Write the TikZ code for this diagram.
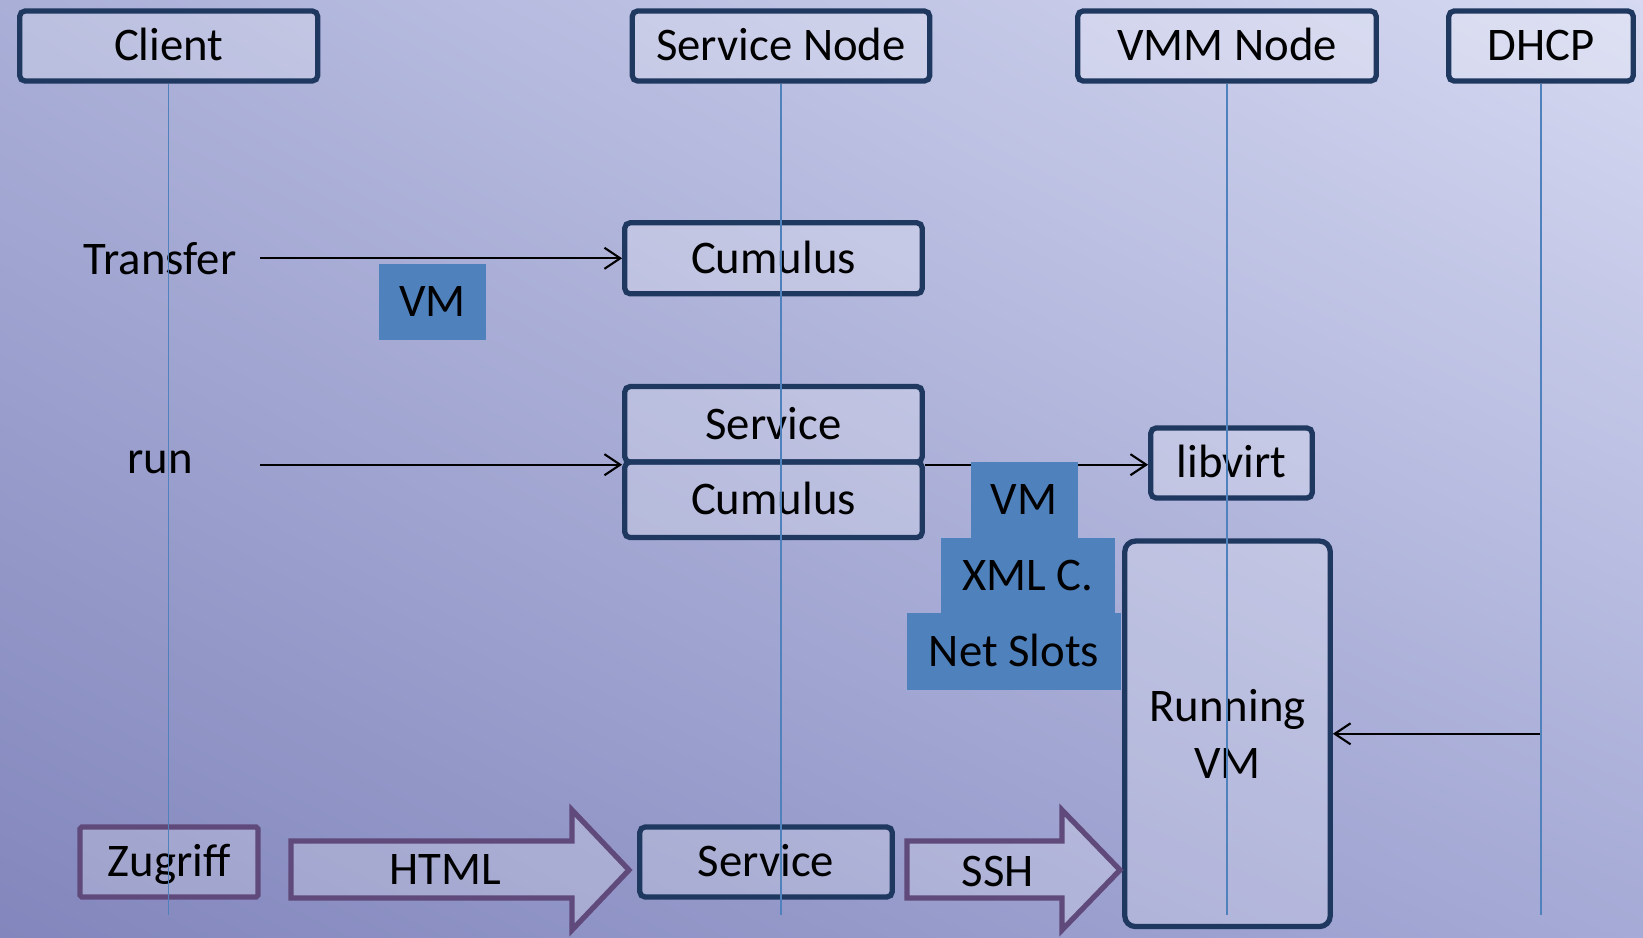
\documentclass[tikz,border=0pt]{standalone}
\usepackage{fontspec}
\setmainfont{Carlito}
\usetikzlibrary{arrows.meta,shadings}

\definecolor{bgTL}{RGB}{170,175,216}
\definecolor{bgTR}{RGB}{214,217,241}
\definecolor{bgBL}{RGB}{130,134,188}
\definecolor{bgBR}{RGB}{165,170,214}
\definecolor{navy}{RGB}{31,56,96}
\definecolor{accent}{RGB}{79,129,189}
\definecolor{plum}{RGB}{96,74,123}

\begin{document}
\begin{tikzpicture}[x=0.02cm,y=-0.02cm,
  every node/.style={font=\fontsize{26.6}{32}\selectfont},
  frame/.style={draw=navy,line width=3pt,fill=white,fill opacity=0.22,text opacity=1,
    rounded corners=3pt,inner sep=0pt},
  box/.style={frame,minimum height=1.4cm,text height=17pt,text depth=0pt},
  accbox/.style={box,draw=plum,rounded corners=1pt},
  tag/.style={fill=accent,inner sep=0pt,minimum height=1.51cm,text height=17pt,text depth=0pt},
  lbl/.style={inner sep=0pt,text height=17pt,text depth=0pt},
  life/.style={accent,line width=0.8pt},
  msg/.style={-{Straight Barb[length=9pt,width=12pt]},line width=1.2pt},
  bigarrow/.style={draw=plum,line width=3pt,fill=white,fill opacity=0.22,line join=miter}
]
\pgfmathsetmacro{\W}{1643}
\pgfmathsetmacro{\H}{937}
\pgfmathsetmacro{\BOT}{915}

\useasboundingbox (0,0) rectangle (\W,\H);
\shade[upper left=bgTL,upper right=bgTR,lower left=bgBL,lower right=bgBR]
  (0,0) rectangle (\W,\H);

% lanes
\node[box,minimum width=5.96cm] (client) at (168.7,46) {Client};
\node[box,minimum width=5.95cm] (snode) at (781,46) {Service Node};
\node[box,minimum width=5.97cm] (vmm) at (1227,46) {VMM Node};
\node[box,minimum width=3.69cm] (dhcp) at (1541,46) {DHCP};

% transfer
\node[lbl] (transfer) at (160,260) {Transfer};
\node[box,minimum width=5.95cm,minimum height=1.42cm] (cumulusA) at (773.5,258.3) {Cumulus};
\coordinate (tstart) at (cumulusA.west -| 260,0);
\draw[msg] (tstart) -- (cumulusA.west);
\node[tag,minimum width=2.14cm] (vmA) at (432.5,301.8) {VM};

% run
\node[lbl] (run) at (160,459) {run};
\node[box,minimum width=5.95cm,minimum height=1.51cm] (svc) at (773.5,424.3) {Service};
\node[box,minimum width=5.95cm,minimum height=1.51cm] (cumulusB) at (773.5,499.8) {Cumulus};
\coordinate (rstart) at (svc.south west -| 260,0);
\draw[msg] (rstart) -- (svc.south west);
\node[box,minimum width=3.23cm] (libvirt) at (1231.5,463) {libvirt};
\draw[msg] (svc.south east) -- (svc.south east -| libvirt.west);
\node[tag,minimum width=2.14cm] (vmB) at (1024,500) {VM};
\node[tag,minimum width=3.5cm] (xmlc) at (1028,575.3) {XML C.};
\node[tag,minimum width=4.3cm,minimum height=1.53cm] (slots) at (1014,651.3) {Net Slots};

\node[frame,align=center,minimum width=4.11cm,minimum height=7.71cm,rounded corners=6pt]
  (running) at (1227.5,733.8) {Running\\VM};
\coordinate (dstart) at (dhcp.south |- running.east);
\draw[msg] (dstart) -- (running.east);

% access
\node[accbox,minimum width=3.56cm] (zugriff) at (169,862) {Zugriff};
\draw[bigarrow] (291,841) -- (572,841) -- (572,810) -- (629,870) -- (572,930) -- (572,898) -- (291,898) -- cycle;
\node[lbl] (html) at (445,870) {HTML};
\node[box,minimum width=5.05cm] (svcB) at (766,862) {Service};
\draw[bigarrow] (907,841) -- (1062,841) -- (1062,810) -- (1120,870) -- (1062,930) -- (1062,898) -- (907,898) -- cycle;
\node[lbl] (ssh) at (998,872) {SSH};

\foreach \n in {client,snode,vmm,dhcp}
  \draw[life] (\n.south) -- (\n.south |- 0,\BOT);
\end{tikzpicture}
\end{document}
